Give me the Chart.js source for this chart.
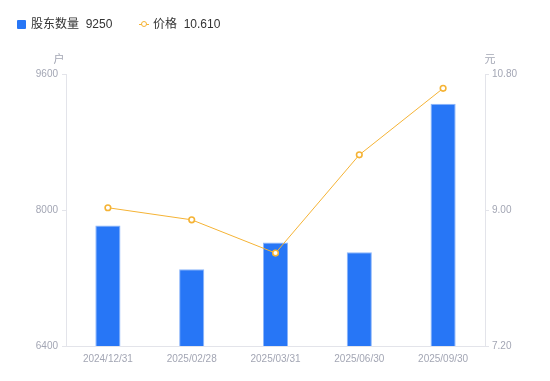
<!DOCTYPE html>
<html>
<head>
<meta charset="utf-8">
<script src="https://cdn.jsdelivr.net/npm/chart.js@4/dist/chart.umd.min.js"></script>
<style>
  html, body { margin: 0; padding: 0; background: #fff; }
  #wrap { position: relative; width: 550px; height: 381px; font-family: "Liberation Sans", "Noto Sans CJK SC", sans-serif; }
  canvas { position: absolute; left: 0; top: 0; }
  .lg { position: absolute; top: 16px; font-size: 12px; color: #333; line-height: 16px; white-space: nowrap; }
  .sq { position: absolute; left: 17px; top: 20px; width: 9px; height: 9px; background: #2776F6; border-radius: 1px; }
  .ln { position: absolute; left: 139px; top: 24px; width: 10px; height: 1px; background: #F5B335; }
  .dot { position: absolute; left: 141px; top: 21px; width: 4px; height: 4px; border: 1.5px solid #F5B335; border-radius: 50%; background: #fff; }
</style>
</head>
<body>
<div id="wrap">
  <canvas id="c" width="550" height="381"></canvas>
  <div class="sq"></div>
  <div class="lg" style="left:31px;">股东数量&nbsp;&nbsp;9250</div>
  <div class="ln"></div><div class="dot"></div>
  <div class="lg" style="left:153px;">价格&nbsp;&nbsp;10.610</div>
</div>
<script>
const categories = ['2024/12/31', '2025/02/28', '2025/03/31', '2025/06/30', '2025/09/30'];
const holders = [7818, 7303, 7619, 7502, 9250];
const prices = [9.03, 8.87, 8.43, 9.73, 10.61];
const leftTicks = [6400, 8000, 9600];
const rightTicks = [7.20, 9.00, 10.80];
const leftUnit = '户';
const rightUnit = '元';

const tickColor = '#A3A6B4';
const axisColor = '#E3E4EA';

const unitPlugin = {
  id: 'units',
  afterDraw(chart) {
    const ctx = chart.ctx;
    const a = chart.chartArea;
    ctx.save();
    ctx.font = '11px "Noto Sans CJK SC", sans-serif';
    ctx.fillStyle = tickColor;
    ctx.textBaseline = 'middle';
    ctx.textAlign = 'center';
    ctx.fillText(leftUnit, a.left - 7, a.top - 15);
    ctx.fillText(rightUnit, a.right + 5, a.top - 15);
    ctx.restore();
  }
};

new Chart(document.getElementById('c'), {
  data: {
    labels: categories,
    datasets: [
      {
        type: 'line',
        label: '价格',
        data: prices,
        yAxisID: 'y1',
        borderColor: '#F5B335',
        backgroundColor: '#fff',
        borderWidth: 1,
        pointRadius: 2.8,
        pointBorderWidth: 1.6,
        pointBackgroundColor: '#fff',
        pointBorderColor: '#F5B335',
        tension: 0,
        order: 0
      },
      {
        type: 'bar',
        label: '股东数量',
        data: holders,
        yAxisID: 'y',
        backgroundColor: '#2776F6',
        borderColor: '#8DB6FA',
        borderWidth: {top: 1, left: 1, right: 1, bottom: 0},
        barPercentage: 0.3,
        categoryPercentage: 1,
        order: 1
      }
    ]
  },
  options: {
    responsive: false,
    animation: false,
    devicePixelRatio: 1,
    layout: { padding: { top: 74, left: 0, right: 0, bottom: 0 } },
    plugins: { legend: { display: false }, tooltip: { enabled: false } },
    scales: {
      x: {
        grid: { display: true, drawOnChartArea: false, drawTicks: false, color: axisColor },
        border: { color: axisColor },
        ticks: { color: tickColor, font: { size: 10, family: '"Liberation Sans", sans-serif' }, padding: 7, maxRotation: 0 },
        afterFit(s) { s.height = 35; }
      },
      y: {
        position: 'left',
        min: 6400, max: 9600,
        afterBuildTicks(s) { s.ticks = leftTicks.map(v => ({ value: v })); },
        grid: { drawOnChartArea: false, drawTicks: true, tickLength: 4, color: axisColor },
        border: { color: axisColor },
        ticks: { color: tickColor, font: { size: 10, family: '"Liberation Sans", sans-serif' }, padding: 4, callback: v => String(v) },
        afterFit(s) { s.width = 66; }
      },
      y1: {
        position: 'right',
        min: 7.2, max: 10.8,
        afterBuildTicks(s) { s.ticks = rightTicks.map(v => ({ value: v })); },
        grid: { drawOnChartArea: false, drawTicks: true, tickLength: 4, color: axisColor },
        border: { color: axisColor },
        ticks: { color: tickColor, font: { size: 10, family: '"Liberation Sans", sans-serif' }, padding: 3, callback: v => Number(v).toFixed(2) },
        afterFit(s) { s.width = 65; }
      }
    }
  },
  plugins: [unitPlugin]
});
</script>
</body>
</html>
